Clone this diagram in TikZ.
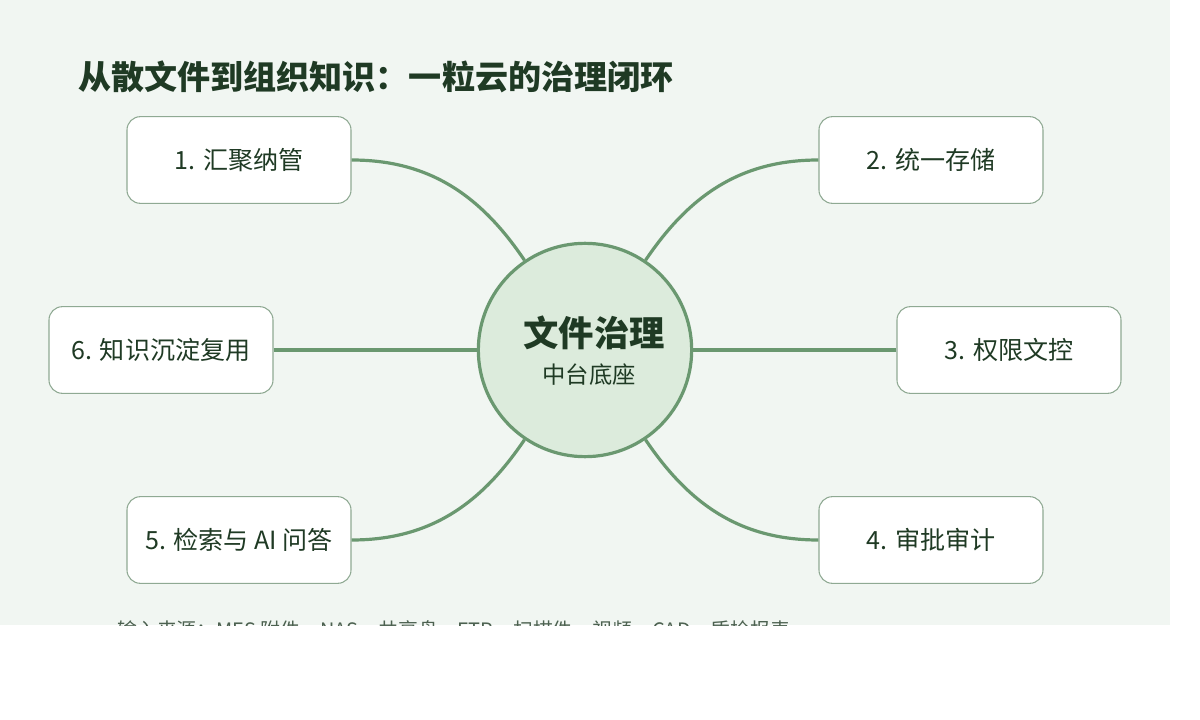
\documentclass[tikz,border=0pt]{standalone}
\usepackage{fontspec}
\setmainfont{Noto Sans CJK SC}
\usepackage{xcolor}
\definecolor{bgc}{HTML}{F1F6F2}
\definecolor{linec}{HTML}{6A9870}
\definecolor{boxc}{HTML}{8FA993}
\definecolor{darkc}{HTML}{1F3A24}
\definecolor{hubc}{HTML}{DCEBDC}

\begin{document}
\begin{tikzpicture}[x=0.75pt, y=-0.75pt]
        % ================= 样式定义 =================
        \tikzset{
            stepbox/.style={rectangle, rounded corners=10pt, draw=boxc, thick, fill=white, minimum width=168pt, minimum height=65pt, inner sep=0pt, font=\fontsize{18.8}{22}\selectfont, text=darkc},
            hub/.style={circle, draw=linec, line width=2.4pt, fill=hubc, minimum size=160pt, inner sep=0pt},
            link/.style={line width=2.4pt, linec}
        }
        \useasboundingbox (0,0) rectangle (1200,720);

        % ================= 背景与标题 =================
        \fill[bgc] (0,0) rectangle (1170,625);
        \node[anchor=west, inner sep=0pt, font=\fontsize{24.8}{28}\selectfont\bfseries, text=darkc] (title) at (78,77) {从散文件到组织知识：一粒云的治理闭环};

        % ================= 步骤节点 =================
        \node[stepbox] (s1) at (239,160) {1. 汇聚纳管};
        \node[stepbox] (s2) at (931,160) {2. 统一存储};
        \node[stepbox] (s3) at (1009,350) {3. 权限文控};
        \node[stepbox] (s4) at (931,540) {4. 审批审计};
        \node[stepbox] (s5) at (239,540) {5. 检索与 AI 问答};
        \node[stepbox] (s6) at (161,350) {6. 知识沉淀复用};

        % ================= 中心节点 =================
        \node[hub] (core) at (585,350) {};

        % ================= 连线 =================
        \draw[link] (s1.east) to[out=0, in=124] (core.124);
        \draw[link] (s2.west) to[out=180, in=56] (core.56);
        \draw[link] (s3.west) -- (core.east);
        \draw[link] (s4.west) to[out=180, in=-56] (core.-56);
        \draw[link] (s5.east) to[out=0, in=-124] (core.-124);
        \draw[link] (s6.east) -- (core.west);

        % ================= 中心文字 =================
        \node[font=\fontsize{26.5}{30}\selectfont\bfseries, text=darkc] (coretitle) at (594,333) {文件治理};
        \node[font=\fontsize{17.5}{20}\selectfont, text=darkc] (coresub) at (589,375) {中台底座};

        % ================= 底部说明(被裁切) =================
        \begin{scope}
            \clip (0,0) rectangle (1170,625);
            \node[anchor=west, inner sep=0pt, font=\fontsize{14.9}{17}\selectfont, text=darkc!80] (sources) at (117,630) {输入来源：MES 附件、NAS、共享盘、FTP、扫描件、视频、CAD、质检报表};
        \end{scope}
\end{tikzpicture}
\end{document}
